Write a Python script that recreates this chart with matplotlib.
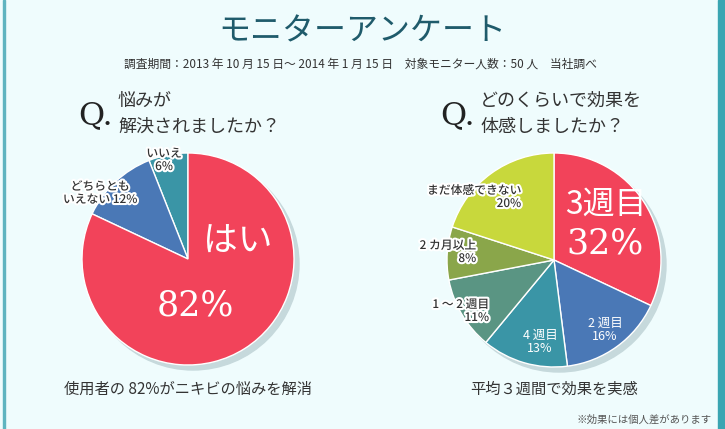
import matplotlib
matplotlib.use("Agg")
import matplotlib.pyplot as plt
import matplotlib.patheffects as pe
from matplotlib.patches import Circle, Rectangle

plt.rcParams['font.family'] = ['Noto Sans CJK JP', 'DejaVu Sans']

W, H = 725, 429

# data
q1_labels = ['いいえ', 'どちらとも\nいえない', 'はい']
q1_values = [6, 12, 82]
q1_colors = ['#3a95a6', '#4a78b6', '#f2435a']

q2_labels = ['3週目', '2 週目', '4 週目', '1 ～ 2 週目', '2 カ月以上', 'まだ体感できない']
q2_values = [32, 16, 13, 11, 8, 20]
q2_colors = ['#f2435a', '#4a78b6', '#3a95a6', '#5a9583', '#8aa64a', '#c8d83c']

bg = '#effcfd'
fig = plt.figure(figsize=(W / 100, H / 100), dpi=100, facecolor=bg)
ax = fig.add_axes([0, 0, 1, 1])
ax.set_facecolor(bg)


def Y(y):
    return H - y


halo = [pe.withStroke(linewidth=3, foreground='white')]

# left pie
c1, r1 = (188, Y(259)), 106
ax.add_patch(Circle((c1[0] + 5, c1[1] - 5), r1, color='#c6d9dc', zorder=0))
ax.pie(q1_values, colors=q1_colors, startangle=90, counterclock=True,
       center=c1, radius=r1, wedgeprops=dict(edgecolor='white', linewidth=1))

# right pie
c2, r2 = (554, Y(260)), 107
ax.add_patch(Circle((c2[0] + 5, c2[1] - 5), r2, color='#c6d9dc', zorder=0))
ax.pie(q2_values, colors=q2_colors, startangle=90, counterclock=False,
       center=c2, radius=r2, wedgeprops=dict(edgecolor='white', linewidth=1))

ax.set_xlim(0, W)
ax.set_ylim(0, H)
ax.set_aspect('auto')
ax.axis('off')

# borders
ax.add_patch(Rectangle((3, 0), 2, H, color='#5fb4c0', zorder=5))
ax.add_patch(Rectangle((718, 0), 7, H, color='#3aa5b2', zorder=5))

# title
ax.text(362, Y(31), 'モニターアンケート', fontsize=23, color='#1f5b6b',
        ha='center', va='center')
ax.text(360, Y(64), '調査期間：2013 年 10 月 15 日～ 2014 年 1 月 15 日　対象モニター人数：50 人　当社調べ',
        fontsize=8.5, color='#333333', ha='center', va='center')

# questions
for qx, tx, lines in [(78, 118, ['悩みが', '解決されましたか？']),
                      (440, 480, ['どのくらいで効果を', '体感しましたか？'])]:
    ax.text(qx, Y(116), 'Q.', fontsize=23, family='DejaVu Serif',
            color='#222222', ha='left', va='center')
    ax.text(tx, Y(101), lines[0], fontsize=13, color='#333333', ha='left', va='center')
    ax.text(tx, Y(127), lines[1], fontsize=13, color='#333333', ha='left', va='center')

small = dict(color='#333333', va='center', linespacing=1.0,
             fontweight='medium', path_effects=halo)

# left pie labels
ax.text(164, Y(160), f'{q1_labels[0]}\n{q1_values[0]}%', fontsize=8.5, ha='center', **small)
ax.text(100, Y(193), 'どちらとも\nいえない 12%', fontsize=8.5, ha='center', **small)
ax.text(238, Y(242), q1_labels[2], fontsize=25, color='white', ha='center', va='center')
ax.text(195, Y(305), f'{q1_values[2]}%', fontsize=25, color='white',
        family='DejaVu Serif', ha='center', va='center')

# right pie labels
ax.text(521, Y(197), f'{q2_labels[5]}\n{q2_values[5]}%', fontsize=8.5, ha='right', **small)
ax.text(476, Y(252), f'{q2_labels[4]}\n{q2_values[4]}%', fontsize=8.5, ha='right', **small)
ax.text(489, Y(311), f'{q2_labels[3]}\n{q2_values[3]}%', fontsize=8.5, ha='right', **small)
ax.text(540, Y(342), f'{q2_labels[2]}\n{q2_values[2]}%', fontsize=9, color='white',
        ha='center', va='center', linespacing=1.0)
ax.text(605, Y(330), f'{q2_labels[1]}\n{q2_values[1]}%', fontsize=9, color='white',
        ha='center', va='center', linespacing=1.0)
ax.text(606, Y(205), q2_labels[0], fontsize=23, color='white', ha='center', va='center')
ax.text(605, Y(244), f'{q2_values[0]}%', fontsize=25, color='white',
        family='DejaVu Serif', ha='center', va='center')

# captions
ax.text(188, Y(389), '使用者の 82%がニキビの悩みを解消', fontsize=11, color='#333333',
        ha='center', va='center')
ax.text(554, Y(389), '平均３週間で効果を実感', fontsize=11, color='#333333',
        ha='center', va='center')
ax.text(712, Y(420), '※効果には個人差があります', fontsize=7.5, color='#555555',
        ha='right', va='center')

fig.savefig('out.png', dpi=100, facecolor=bg)
